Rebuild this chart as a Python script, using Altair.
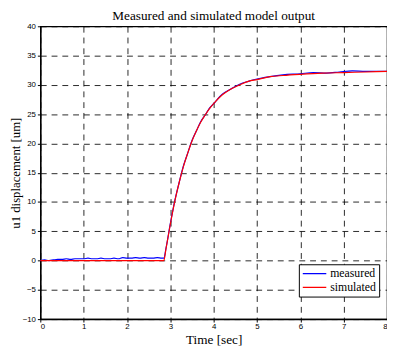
import altair as alt
import pandas as pd

# simulated model output
sim_t = [0, 2.85, 2.9, 3.0, 3.1, 3.2, 3.3, 3.4, 3.5, 3.6, 3.7, 3.8, 3.9, 4.0,
         4.2, 4.4, 4.6, 4.8, 5.0, 5.3, 5.6, 6.0, 6.5, 7.0, 7.5, 8.0]
sim_y = [0, 0, 2.0, 6.2, 10.0, 13.2, 16.0, 18.3, 20.4, 22.1, 23.6, 24.8, 25.9, 26.8,
         28.3, 29.3, 30.0, 30.6, 30.9, 31.4, 31.6, 31.8, 32.0, 32.1, 32.2, 32.3]

# measured output (noisy)
meas_t = [0.0, 0.1, 0.2, 0.3, 0.4, 0.5, 0.6, 0.7, 0.8, 0.9, 1.0, 1.1, 1.2, 1.3,
          1.4, 1.5, 1.6, 1.7, 1.8, 1.9, 2.0, 2.1, 2.2, 2.3, 2.4, 2.5, 2.6, 2.7,
          2.8, 2.85, 2.9, 3.0, 3.1, 3.2, 3.3, 3.4, 3.5, 3.6, 3.7, 3.8, 3.9, 4.0,
          4.2, 4.4, 4.6, 4.8, 5.0, 5.3, 5.6, 6.0, 6.3, 6.6, 6.9, 7.2, 7.5, 7.8, 8.0]
meas_y = [0.0, 0.1, 0.0, 0.1, 0.2, 0.2, 0.3, 0.2, 0.3, 0.3, 0.3, 0.4, 0.3, 0.3,
          0.4, 0.3, 0.3, 0.4, 0.3, 0.5, 0.4, 0.4, 0.5, 0.4, 0.5, 0.4, 0.4, 0.5,
          0.4, 0.4, 2.1, 6.3, 10.1, 13.2, 16.1, 18.3, 20.5, 22.1, 23.7, 24.8, 26.0, 26.8,
          28.4, 29.3, 30.1, 30.6, 31.0, 31.4, 31.7, 31.9, 32.1, 32.0, 32.2, 32.4, 32.3, 32.3, 32.3]

series = ["measured", "simulated"]
colors = ["#0000FF", "#FF0000"]

df = pd.concat([
    pd.DataFrame({"t": meas_t, "y": meas_y, "s": "measured"}),
    pd.DataFrame({"t": sim_t, "y": sim_y, "s": "simulated"}),
])

serif = "Liberation Serif"
sans = "Liberation Sans"

lines = alt.Chart(df).mark_line(strokeWidth=1.2, interpolate="monotone").encode(
    x=alt.X("t:Q", scale=alt.Scale(domain=[0, 8], nice=False),
            axis=alt.Axis(values=list(range(0, 9)), title="Time [sec]", format="d")),
    y=alt.Y("y:Q", scale=alt.Scale(domain=[-10, 40], nice=False),
            axis=alt.Axis(values=list(range(-10, 45, 5)), title="u1 displacement [um]", format="d")),
    color=alt.Color("s:N", scale=alt.Scale(domain=series, range=colors),
                    legend=alt.Legend(title=None, orient="none", legendX=264, legendY=243,
                                      strokeColor="black", fillColor="white", padding=3,
                                      symbolType="stroke", symbolSize=576, symbolStrokeWidth=1.3,
                                      clipHeight=13, rowPadding=1,
                                      labelFont=serif, labelFontSize=12, labelColor="black",
                                      labelOffset=3)),
    order=alt.Order("s:N", sort="ascending"),
)

chart = lines.properties(
    width=354, height=299,
    title=alt.TitleParams("Measured and simulated model output", font=serif, fontSize=13.5,
                          fontWeight="normal", color="black", offset=0),
    autosize=alt.AutoSizeParams(type="none"),
    padding={"left": 33, "top": 15, "right": 0, "bottom": 34},
).configure_view(stroke="black", strokeWidth=1.2).configure_axis(
    grid=True, gridColor="black", gridDash=[6, 5], gridWidth=1, gridOpacity=0.85,
    domainColor="black", domainWidth=1.5, tickColor="black", tickSize=3,
    labelFont=sans, labelFontSize=8, labelColor="black",
    titleFont=serif, titleFontSize=13.5, titleFontWeight="normal", titleColor="black",
).configure_axisX(labelPadding=1, titlePadding=2).configure_axisY(
    labelPadding=2, titlePadding=0, titleFontSize=13)

chart.save("out.html", embed_options={"renderer": "svg", "actions": False})
